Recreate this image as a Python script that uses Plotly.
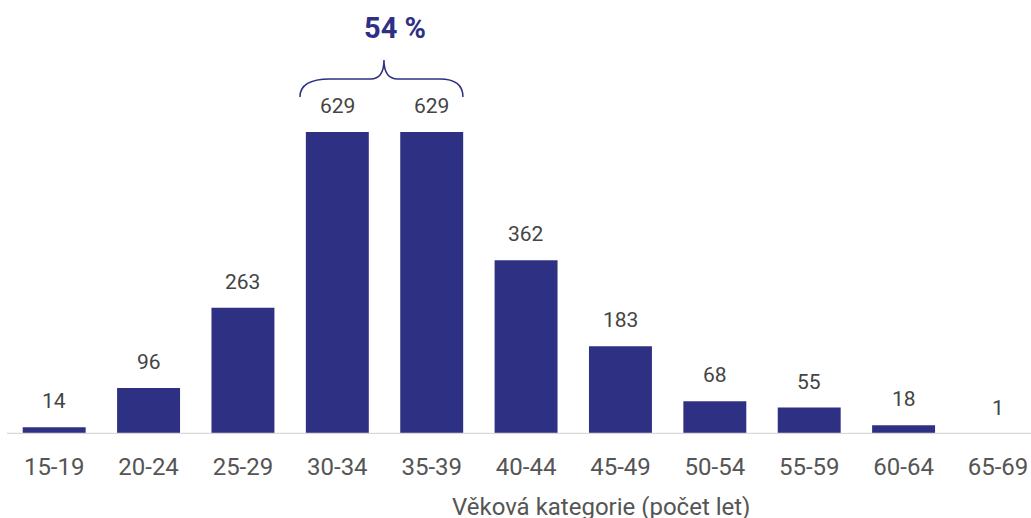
import plotly.graph_objects as go

categories = ["15-19", "20-24", "25-29", "30-34", "35-39", "40-44",
              "45-49", "50-54", "55-59", "60-64", "65-69"]
counts = [14, 96, 263, 629, 629, 362, 183, 68, 55, 18, 1]
brace_label = "54 %"
x_title = "Věková kategorie (počet let)"

NAVY = "#2e3084"
TEXT = "#555555"
VAL = "#444444"

fig = go.Figure()
fig.add_trace(go.Bar(x=categories, y=counts, marker=dict(color=NAVY, line=dict(width=0)),
                     hoverinfo="x+y"))

for c, v in zip(categories, counts):
    fig.add_annotation(x=c, y=v, text=str(v), showarrow=False, yanchor="middle",
                       yshift=26, font=dict(family="Roboto", size=21, color=VAL))

# brace over the two highest categories
i0 = categories.index("30-34")
i1 = categories.index("35-39")
mid = (i0 + i1) / 2
xl, xr = i0 - 0.396, i1 + 0.331
y_end, y_bar, y_peak = 702, 739.4, 779
path = (f"M {xl},{y_end} Q {xl},{y_bar} {xl+0.318},{y_bar} "
        f"L {mid-0.149},{y_bar} Q {mid-0.006},{y_bar} {mid-0.006},{y_peak} "
        f"Q {mid-0.006},{y_bar} {mid+0.142},{y_bar} "
        f"L {xr-0.244},{y_bar} Q {xr},{y_bar} {xr},{y_end}")
fig.add_shape(type="path", path=path, xref="x", yref="y",
              line=dict(color=NAVY, width=1.5))
fig.add_annotation(x=mid + 0.11, y=845, text=f"<b>{brace_label}</b>", showarrow=False,
                   yanchor="middle", font=dict(family="Roboto", size=29, color=NAVY))

# baseline drawn above the bars
fig.add_shape(type="line", xref="paper", yref="y", x0=0, x1=1, y0=-0.6, y1=-0.6,
              line=dict(color="#d9d9d9", width=3), layer="above")

fig.add_annotation(x=(601 - 7) / 1024, y=-0.1681, xref="paper", yref="paper",
                   text=x_title, showarrow=False, yanchor="middle",
                   font=dict(family="Roboto", size=24, color=TEXT))

fig.update_layout(
    width=1031, height=518,
    margin=dict(l=7, r=0, t=0, b=84),
    paper_bgcolor="white", plot_bgcolor="white",
    bargap=0.333, showlegend=False,
    xaxis=dict(type="category", range=[-0.5, 10.35], showline=False,
               ticks="outside", ticklen=11, tickcolor="rgba(0,0,0,0)",
               tickfont=dict(family="Roboto", size=24, color=TEXT), showgrid=False,
               fixedrange=True),
    yaxis=dict(range=[0, 903.9], visible=False, showgrid=False, fixedrange=True),
)

fig.write_html("out.html")
